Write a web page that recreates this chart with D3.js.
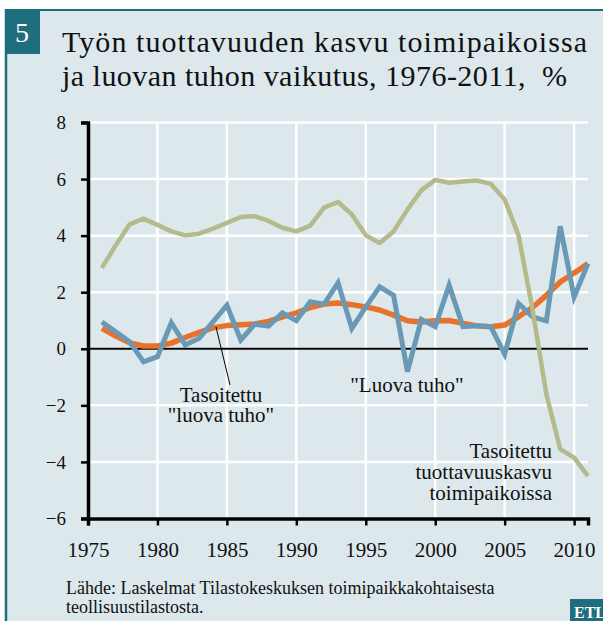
<!DOCTYPE html>
<html>
<head>
<meta charset="utf-8">
<script src="https://cdn.jsdelivr.net/npm/d3@7"></script>
<style>
  body { margin: 0; background: #fff; }
  text { font-family: "Liberation Serif", "DejaVu Serif", serif; fill: #111; }
</style>
</head>
<body>
<div id="chart"></div>
<script>
var years = [1976, 1977, 1978, 1979, 1980, 1981, 1982, 1983, 1984, 1985,
             1986, 1987, 1988, 1989, 1990, 1991, 1992, 1993, 1994, 1995,
             1996, 1997, 1998, 1999, 2000, 2001, 2002, 2003, 2004, 2005,
             2006, 2007, 2008, 2009, 2010, 2011];

// Tasoitettu tuottavuuskasvu toimipaikoissa
var tuottavuus = [2.86, 3.66, 4.40, 4.60, 4.38, 4.15, 4.01, 4.07, 4.25, 4.45,
                  4.66, 4.69, 4.52, 4.28, 4.15, 4.35, 4.99, 5.19, 4.75, 4.01,
                  3.74, 4.15, 4.92, 5.60, 5.97, 5.87, 5.91, 5.95, 5.83, 5.28,
                  4.01, 1.40, -1.60, -3.55, -3.85, -4.50];

// "Luova tuho"
var luovaTuho = [0.95, 0.60, 0.25, -0.46, -0.28, 0.92, 0.13, 0.37, 0.95, 1.54,
                 0.31, 0.87, 0.80, 1.27, 0.99, 1.66, 1.58, 2.33, 0.72, 1.48,
                 2.19, 1.89, -0.81, 1.04, 0.78, 2.25, 0.78, 0.81, 0.78, -0.19,
                 1.60, 1.13, 0.99, 4.33, 1.83, 3.01];

// Tasoitettu "luova tuho"
var tasoitettuTuho = [0.72, 0.45, 0.21, 0.10, 0.10, 0.20, 0.40, 0.58, 0.74, 0.82,
                      0.85, 0.88, 0.97, 1.13, 1.27, 1.46, 1.58, 1.62, 1.56, 1.48,
                      1.37, 1.19, 0.99, 0.95, 0.99, 1.00, 0.90, 0.81, 0.78, 0.84,
                      1.13, 1.46, 1.89, 2.36, 2.68, 3.01];

var xTicks = [1975, 1980, 1985, 1990, 1995, 2000, 2005, 2010];
var yTicks = [-6, -4, -2, 0, 2, 4, 6, 8];

var titleLines = ["Työn tuottavuuden kasvu toimipaikoissa",
                  "ja luovan tuhon vaikutus, 1976-2011,\u00a0\u00a0%"];
var sourceLines = ["Lähde: Laskelmat Tilastokeskuksen toimipaikkakohtaisesta",
                   "teollisuustilastosta."];

var W = 603, H = 621,
    teal = "#1f6e7e",
    bg = "#dce8ec";

var svg = d3.select("#chart").append("svg")
    .attr("width", W)
    .attr("height", H);

svg.append("rect").attr("width", W).attr("height", H).attr("fill", "#fff");
svg.append("rect")
    .attr("x", 5).attr("y", 9)
    .attr("width", W - 5).attr("height", H - 9)
    .attr("fill", bg);

// frame lines on top and left
svg.append("line").attr("x1", 5).attr("x2", W).attr("y1", 10).attr("y2", 10)
    .attr("stroke", teal).attr("stroke-width", 2);
svg.append("line").attr("x1", 6).attr("x2", 6).attr("y1", 9).attr("y2", H)
    .attr("stroke", teal).attr("stroke-width", 2.5);

// number box
svg.append("rect").attr("x", 5).attr("y", 9).attr("width", 35).attr("height", 45)
    .attr("fill", teal);
svg.append("text").attr("x", 22).attr("y", 42)
    .attr("text-anchor", "middle")
    .style("fill", "#fff").style("font-size", "28px")
    .text("5");

// title
svg.append("text").attr("x", 62).attr("y", 52)
    .attr("textLength", 525)
    .style("font-size", "30px")
    .text(titleLines[0]);
svg.append("text").attr("x", 62).attr("y", 86)
    .attr("textLength", 505)
    .style("font-size", "30px")
    .text(titleLines[1]);

var x = d3.scaleLinear().domain([1975, 2011]).range([88, 588]);
var y = d3.scaleLinear().domain([-6, 8]).range([518.5, 122.5]);

// grid
svg.append("g").selectAll("line")
    .data(xTicks.slice(1))
    .enter().append("line")
    .attr("x1", function(d) { return x(d); })
    .attr("x2", function(d) { return x(d); })
    .attr("y1", y(8)).attr("y2", y(-6))
    .attr("stroke", "#fff").attr("stroke-width", 2.5);
svg.append("g").selectAll("line")
    .data(yTicks)
    .enter().append("line")
    .attr("x1", x(1975)).attr("x2", x(2011))
    .attr("y1", function(d) { return y(d); })
    .attr("y2", function(d) { return y(d); })
    .attr("stroke", "#fff").attr("stroke-width", 2.5);

// zero line
svg.append("line")
    .attr("x1", x(1975)).attr("x2", x(2011))
    .attr("y1", y(0)).attr("y2", y(0))
    .attr("stroke", "#000").attr("stroke-width", 2);

// axes
var yAxis = svg.append("g")
    .attr("transform", "translate(" + x(1975) + ",0)")
    .call(d3.axisLeft(y).tickValues(yTicks).tickSizeOuter(0).tickSize(7).tickPadding(15));
var xAxis = svg.append("g")
    .attr("transform", "translate(0," + y(-6) + ")")
    .call(d3.axisBottom(x).tickValues(xTicks).tickFormat(d3.format("d"))
          .tickSizeOuter(0).tickSize(7));

yAxis.select(".domain").attr("stroke-width", 3.5);
xAxis.select(".domain").attr("stroke-width", 3.5);
yAxis.selectAll(".tick line").attr("stroke-width", 2.5);
xAxis.selectAll(".tick line").attr("stroke-width", 2.5);
yAxis.selectAll("text")
    .style("font-size", "19px").style("font-family", "Liberation Serif, serif")
    .attr("fill", "#111");
xAxis.selectAll("text")
    .style("font-size", "21px").style("font-family", "Liberation Serif, serif")
    .attr("fill", "#111")
    .attr("y", 557 - y(-6)).attr("dy", 0);

function series(values) {
    return years.map(function(yr, i) { return [yr, values[i]]; });
}

var line = d3.line()
    .x(function(d) { return x(d[0]); })
    .y(function(d) { return y(d[1]); });

svg.append("path").datum(series(tasoitettuTuho))
    .attr("d", line).attr("fill", "none")
    .attr("stroke", "#e8722b").attr("stroke-width", 5.5)
    .attr("stroke-linejoin", "round");
svg.append("path").datum(series(luovaTuho))
    .attr("d", line).attr("fill", "none")
    .attr("stroke", "#6a99b5").attr("stroke-width", 5)
    .attr("stroke-linejoin", "miter");
svg.append("path").datum(series(tuottavuus))
    .attr("d", line).attr("fill", "none")
    .attr("stroke", "#b4ba8c").attr("stroke-width", 4.5)
    .attr("stroke-linejoin", "round");

// annotations
svg.append("line")
    .attr("x1", 216).attr("y1", 327).attr("x2", 230).attr("y2", 385)
    .attr("stroke", "#000").attr("stroke-width", 1);

var ann = svg.append("g").style("font-size", "21px");
ann.append("text").attr("x", 221).attr("y", 402).attr("text-anchor", "middle")
    .text("Tasoitettu");
ann.append("text").attr("x", 221).attr("y", 422).attr("text-anchor", "middle")
    .text("\"luova tuho\"");
ann.append("text").attr("x", 407).attr("y", 392).attr("text-anchor", "middle")
    .text("\"Luova tuho\"");
ann.append("text").attr("x", 552).attr("y", 458).attr("text-anchor", "end")
    .text("Tasoitettu");
ann.append("text").attr("x", 552).attr("y", 479).attr("text-anchor", "end")
    .text("tuottavuuskasvu");
ann.append("text").attr("x", 552).attr("y", 500).attr("text-anchor", "end")
    .text("toimipaikoissa");

// source
svg.append("text").attr("x", 66).attr("y", 594)
    .style("font-size", "18px")
    .text(sourceLines[0]);
svg.append("text").attr("x", 66).attr("y", 613)
    .style("font-size", "18px")
    .text(sourceLines[1]);

// logo box
svg.append("rect").attr("x", 570).attr("y", 599).attr("width", 33).attr("height", 22)
    .attr("fill", teal);
svg.append("text").attr("x", 574).attr("y", 618)
    .style("fill", "#fff").style("font-size", "16px").style("font-weight", "bold")
    .text("ETL");
</script>
</body>
</html>
